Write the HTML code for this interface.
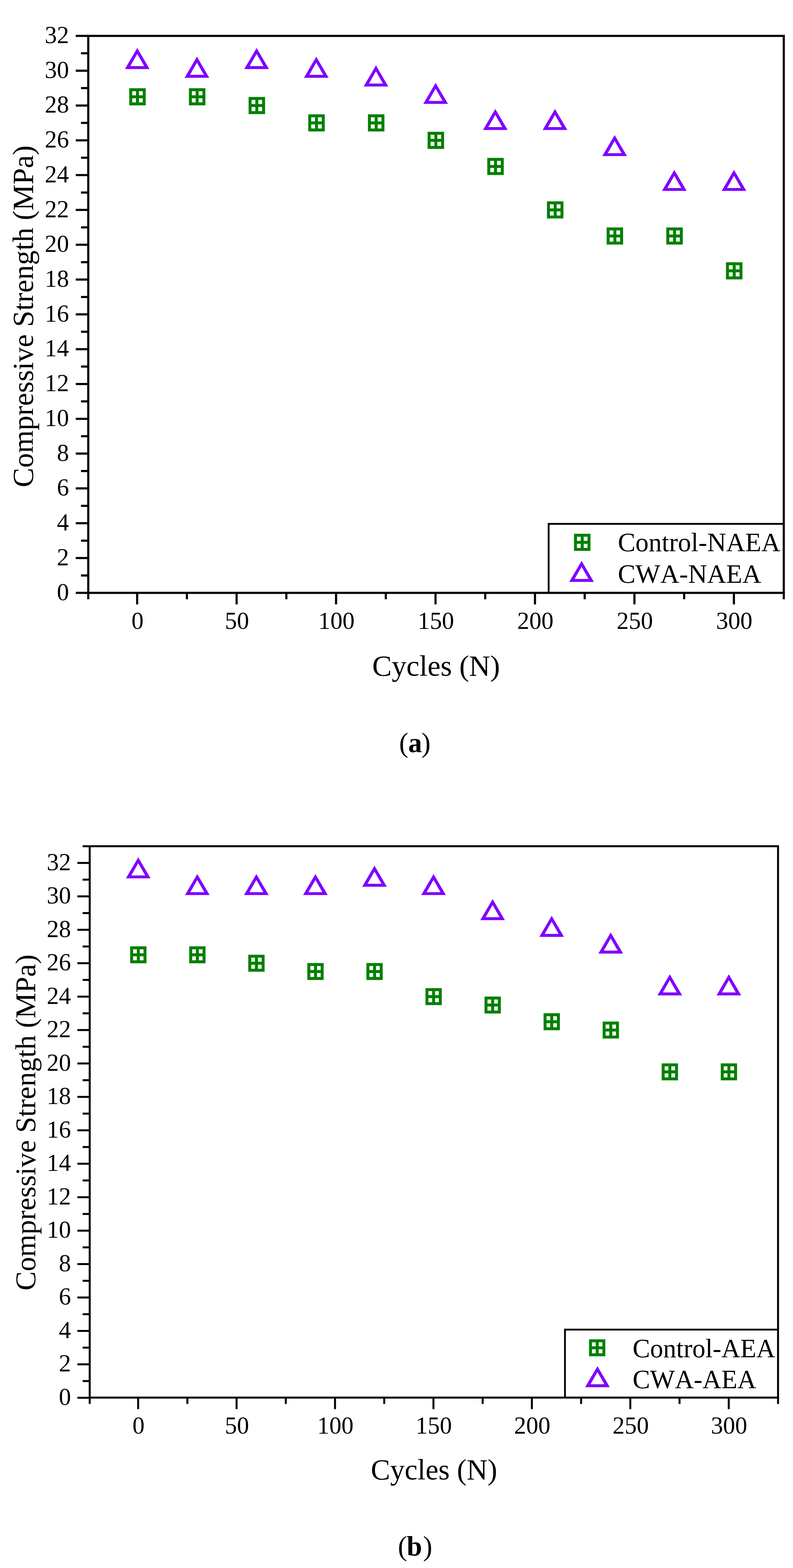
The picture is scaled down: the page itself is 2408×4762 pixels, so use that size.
<!DOCTYPE html>
<html><head><meta charset="utf-8"><title>Compressive Strength vs Cycles</title>
<style>
html,body{margin:0;padding:0;background:#fff;}
svg{display:block;}
text{font-family:"Liberation Serif","Times New Roman",serif;font-kerning:none;fill:#000;}
</style></head>
<body>
<svg width="2408" height="4762" viewBox="0 0 2408 4762">
<rect width="2408" height="4762" fill="#fff"/>
<rect x="268" y="109" width="2112" height="1691.5" fill="none" stroke="#000" stroke-width="6.5"/>
<path d="M268 1800.5H230M268 1747.64H246M268 1694.78H230M268 1641.92H246M268 1589.06H230M268 1536.2H246M268 1483.34H230M268 1430.48H246M268 1377.62H230M268 1324.76H246M268 1271.9H230M268 1219.04H246M268 1166.18H230M268 1113.32H246M268 1060.46H230M268 1007.6H246M268 954.74H230M268 901.88H246M268 849.02H230M268 796.16H246M268 743.3H230M268 690.44H246M268 637.58H230M268 584.72H246M268 531.86H230M268 479H246M268 426.14H230M268 373.28H246M268 320.42H230M268 267.56H246M268 214.7H230M268 161.84H246M268 109H230M268 1800.5V1820M416.5 1800.5V1835.5M567.5 1800.5V1820M718.5 1800.5V1835.5M869.5 1800.5V1820M1020.5 1800.5V1835.5M1171.5 1800.5V1820M1322.5 1800.5V1835.5M1473.5 1800.5V1820M1624.5 1800.5V1835.5M1775.5 1800.5V1820M1926.5 1800.5V1835.5M2077.5 1800.5V1820M2228.5 1800.5V1835.5M2380 1800.5V1820" stroke="#000" stroke-width="6.5" fill="none"/>
<path d="M1666 1800.5V1591H2380" stroke="#000" stroke-width="5.5" fill="none"/>
<g font-size="73.5" text-anchor="end"><text x="209.5" y="1822.5">0</text><text x="209.5" y="1716.78">2</text><text x="209.5" y="1611.06">4</text><text x="209.5" y="1505.34">6</text><text x="209.5" y="1399.62">8</text><text x="209.5" y="1293.9">10</text><text x="209.5" y="1188.18">12</text><text x="209.5" y="1082.46">14</text><text x="209.5" y="976.74">16</text><text x="209.5" y="871.02">18</text><text x="209.5" y="765.3">20</text><text x="209.5" y="659.58">22</text><text x="209.5" y="553.86">24</text><text x="209.5" y="448.14">26</text><text x="209.5" y="342.42">28</text><text x="209.5" y="236.7">30</text><text x="209.5" y="130.98">32</text></g>
<g font-size="73.5" text-anchor="middle"><text x="417.5" y="1910">0</text><text x="719.5" y="1910">50</text><text x="1021.5" y="1910">100</text><text x="1323.5" y="1910">150</text><text x="1625.5" y="1910">200</text><text x="1927.5" y="1910">250</text><text x="2229.5" y="1910">300</text></g>
<text font-size="89" text-anchor="middle" transform="translate(100 960.8) rotate(-90)">Compressive Strength (MPa)</text>
<text font-size="89" text-anchor="middle" x="1324.2" y="2051.5">Cycles (N)</text>
<text font-size="84" y="2283.8"><tspan x="1212.1">(</tspan><tspan x="1239.4" font-weight="bold">a</tspan><tspan x="1279.6">)</tspan></text>
<path d="M1743 1621h50v52h-50zM1752 1630h11.5v12.5h-11.5zM1752 1651.5h11.5v12.5h-11.5zM1772.5 1630h11.5v12.5h-11.5zM1772.5 1651.5h11.5v12.5h-11.5z" fill="#008000" fill-rule="evenodd"/>
<path d="M1766 1703.3L1803.5 1767.2L1728.5 1767.2ZM1766 1721.3L1787.1 1758.3L1744.9 1758.3Z" fill="#8000ff" fill-rule="evenodd"/>
<g font-size="80"><text x="1876.2" y="1674.4">Control-NAEA</text><text x="1876.2" y="1770">CWA-NAEA</text></g>
<path d="M392.5 267.99h50v52h-50zM401.5 276.99h11.5v12.5h-11.5zM401.5 298.49h11.5v12.5h-11.5zM422 276.99h11.5v12.5h-11.5zM422 298.49h11.5v12.5h-11.5z" fill="#008000" fill-rule="evenodd"/>
<path d="M573.7 267.99h50v52h-50zM582.7 276.99h11.5v12.5h-11.5zM582.7 298.49h11.5v12.5h-11.5zM603.2 276.99h11.5v12.5h-11.5zM603.2 298.49h11.5v12.5h-11.5z" fill="#008000" fill-rule="evenodd"/>
<path d="M754.9 294.42h50v52h-50zM763.9 303.42h11.5v12.5h-11.5zM763.9 324.92h11.5v12.5h-11.5zM784.4 303.42h11.5v12.5h-11.5zM784.4 324.92h11.5v12.5h-11.5z" fill="#008000" fill-rule="evenodd"/>
<path d="M936.1 347.28h50v52h-50zM945.1 356.28h11.5v12.5h-11.5zM945.1 377.78h11.5v12.5h-11.5zM965.6 356.28h11.5v12.5h-11.5zM965.6 377.78h11.5v12.5h-11.5z" fill="#008000" fill-rule="evenodd"/>
<path d="M1117.3 347.28h50v52h-50zM1126.3 356.28h11.5v12.5h-11.5zM1126.3 377.78h11.5v12.5h-11.5zM1146.8 356.28h11.5v12.5h-11.5zM1146.8 377.78h11.5v12.5h-11.5z" fill="#008000" fill-rule="evenodd"/>
<path d="M1298.5 400.14h50v52h-50zM1307.5 409.14h11.5v12.5h-11.5zM1307.5 430.64h11.5v12.5h-11.5zM1328 409.14h11.5v12.5h-11.5zM1328 430.64h11.5v12.5h-11.5z" fill="#008000" fill-rule="evenodd"/>
<path d="M1479.7 479.43h50v52h-50zM1488.7 488.43h11.5v12.5h-11.5zM1488.7 509.93h11.5v12.5h-11.5zM1509.2 488.43h11.5v12.5h-11.5zM1509.2 509.93h11.5v12.5h-11.5z" fill="#008000" fill-rule="evenodd"/>
<path d="M1660.9 611.58h50v52h-50zM1669.9 620.58h11.5v12.5h-11.5zM1669.9 642.08h11.5v12.5h-11.5zM1690.4 620.58h11.5v12.5h-11.5zM1690.4 642.08h11.5v12.5h-11.5z" fill="#008000" fill-rule="evenodd"/>
<path d="M1842.1 690.87h50v52h-50zM1851.1 699.87h11.5v12.5h-11.5zM1851.1 721.37h11.5v12.5h-11.5zM1871.6 699.87h11.5v12.5h-11.5zM1871.6 721.37h11.5v12.5h-11.5z" fill="#008000" fill-rule="evenodd"/>
<path d="M2023.3 690.87h50v52h-50zM2032.3 699.87h11.5v12.5h-11.5zM2032.3 721.37h11.5v12.5h-11.5zM2052.8 699.87h11.5v12.5h-11.5zM2052.8 721.37h11.5v12.5h-11.5z" fill="#008000" fill-rule="evenodd"/>
<path d="M2204.5 796.59h50v52h-50zM2213.5 805.59h11.5v12.5h-11.5zM2213.5 827.09h11.5v12.5h-11.5zM2234 805.59h11.5v12.5h-11.5zM2234 827.09h11.5v12.5h-11.5z" fill="#008000" fill-rule="evenodd"/>
<path d="M416.8 145.87L454.3 209.77L379.3 209.77ZM416.8 163.87L437.9 200.87L395.7 200.87Z" fill="#8000ff" fill-rule="evenodd"/>
<path d="M598 172.3L635.5 236.2L560.5 236.2ZM598 190.3L619.1 227.3L576.9 227.3Z" fill="#8000ff" fill-rule="evenodd"/>
<path d="M779.2 145.87L816.7 209.77L741.7 209.77ZM779.2 163.87L800.3 200.87L758.1 200.87Z" fill="#8000ff" fill-rule="evenodd"/>
<path d="M960.4 172.3L997.9 236.2L922.9 236.2ZM960.4 190.3L981.5 227.3L939.3 227.3Z" fill="#8000ff" fill-rule="evenodd"/>
<path d="M1141.6 198.73L1179.1 262.63L1104.1 262.63ZM1141.6 216.73L1162.7 253.73L1120.5 253.73Z" fill="#8000ff" fill-rule="evenodd"/>
<path d="M1322.8 251.59L1360.3 315.49L1285.3 315.49ZM1322.8 269.59L1343.9 306.59L1301.7 306.59Z" fill="#8000ff" fill-rule="evenodd"/>
<path d="M1504 330.88L1541.5 394.78L1466.5 394.78ZM1504 348.88L1525.1 385.88L1482.9 385.88Z" fill="#8000ff" fill-rule="evenodd"/>
<path d="M1685.2 330.88L1722.7 394.78L1647.7 394.78ZM1685.2 348.88L1706.3 385.88L1664.1 385.88Z" fill="#8000ff" fill-rule="evenodd"/>
<path d="M1866.4 410.17L1903.9 474.07L1828.9 474.07ZM1866.4 428.17L1887.5 465.17L1845.3 465.17Z" fill="#8000ff" fill-rule="evenodd"/>
<path d="M2047.6 515.89L2085.1 579.79L2010.1 579.79ZM2047.6 533.89L2068.7 570.89L2026.5 570.89Z" fill="#8000ff" fill-rule="evenodd"/>
<path d="M2228.8 515.89L2266.3 579.79L2191.3 579.79ZM2228.8 533.89L2249.9 570.89L2207.7 570.89Z" fill="#8000ff" fill-rule="evenodd"/>
<rect x="272.4" y="2570" width="2090.2" height="1674.5" fill="none" stroke="#000" stroke-width="6"/>
<path d="M272.4 4245H235M272.4 4194.24H250.8M272.4 4143.48H235M272.4 4092.72H250.8M272.4 4041.96H235M272.4 3991.2H250.8M272.4 3940.44H235M272.4 3889.68H250.8M272.4 3838.92H235M272.4 3788.16H250.8M272.4 3737.4H235M272.4 3686.64H250.8M272.4 3635.88H235M272.4 3585.12H250.8M272.4 3534.36H235M272.4 3483.6H250.8M272.4 3432.84H235M272.4 3382.08H250.8M272.4 3331.32H235M272.4 3280.56H250.8M272.4 3229.8H235M272.4 3179.04H250.8M272.4 3128.28H235M272.4 3077.52H250.8M272.4 3026.76H235M272.4 2976H250.8M272.4 2925.24H235M272.4 2874.48H250.8M272.4 2823.72H235M272.4 2772.96H250.8M272.4 2722.2H235M272.4 2671.44H250.8M272.4 2620.68H235M272.4 2570H250.8M272.4 4244.5V4263.75M419.5 4244.5V4279.5M568.95 4244.5V4263.75M718.4 4244.5V4279.5M867.85 4244.5V4263.75M1017.3 4244.5V4279.5M1166.75 4244.5V4263.75M1316.2 4244.5V4279.5M1465.65 4244.5V4263.75M1615.1 4244.5V4279.5M1764.55 4244.5V4263.75M1914 4244.5V4279.5M2063.45 4244.5V4263.75M2212.9 4244.5V4279.5M2362.6 4244.5V4263.75" stroke="#000" stroke-width="6" fill="none"/>
<path d="M1715.6 4244.5V4038H2362.6" stroke="#000" stroke-width="5.5" fill="none"/>
<g font-size="73.5" text-anchor="end"><text x="215.5" y="4267">0</text><text x="215.5" y="4165.48">2</text><text x="215.5" y="4063.96">4</text><text x="215.5" y="3962.44">6</text><text x="215.5" y="3860.92">8</text><text x="215.5" y="3759.4">10</text><text x="215.5" y="3657.88">12</text><text x="215.5" y="3556.36">14</text><text x="215.5" y="3454.84">16</text><text x="215.5" y="3353.32">18</text><text x="215.5" y="3251.8">20</text><text x="215.5" y="3150.28">22</text><text x="215.5" y="3048.76">24</text><text x="215.5" y="2947.24">26</text><text x="215.5" y="2845.72">28</text><text x="215.5" y="2744.2">30</text><text x="215.5" y="2642.68">32</text></g>
<g font-size="73.5" text-anchor="middle"><text x="420.5" y="4354">0</text><text x="719.4" y="4354">50</text><text x="1018.3" y="4354">100</text><text x="1317.2" y="4354">150</text><text x="1616.1" y="4354">200</text><text x="1915" y="4354">250</text><text x="2213.9" y="4354">300</text></g>
<text font-size="87.5" text-anchor="middle" transform="translate(106.7 3408.9) rotate(-90)">Compressive Strength (MPa)</text>
<text font-size="88" text-anchor="middle" x="1317.9" y="4493">Cycles (N)</text>
<text font-size="84" y="4723.8"><tspan x="1208.3">(</tspan><tspan x="1234.9" font-weight="bold">b</tspan><tspan x="1284.7">)</tspan></text>
<path d="M1788.65 4067.5h49.5v51.5h-49.5zM1797.65 4076.5h11.25v12.25h-11.25zM1797.65 4097.75h11.25v12.25h-11.25zM1817.9 4076.5h11.25v12.25h-11.25zM1817.9 4097.75h11.25v12.25h-11.25z" fill="#008000" fill-rule="evenodd"/>
<path d="M1814.25 4149.1L1851.75 4213L1776.75 4213ZM1814.25 4167.1L1835.35 4204.1L1793.15 4204.1Z" fill="#8000ff" fill-rule="evenodd"/>
<g font-size="79.5"><text x="1921.1" y="4121.5">Control-AEA</text><text x="1921.1" y="4215.6">CWA-AEA</text></g>
<path d="M395.25 2874.11h49.5v51.5h-49.5zM404.25 2883.11h11.25v12.25h-11.25zM404.25 2904.36h11.25v12.25h-11.25zM424.5 2883.11h11.25v12.25h-11.25zM424.5 2904.36h11.25v12.25h-11.25z" fill="#008000" fill-rule="evenodd"/>
<path d="M574.59 2874.11h49.5v51.5h-49.5zM583.59 2883.11h11.25v12.25h-11.25zM583.59 2904.36h11.25v12.25h-11.25zM603.84 2883.11h11.25v12.25h-11.25zM603.84 2904.36h11.25v12.25h-11.25z" fill="#008000" fill-rule="evenodd"/>
<path d="M753.93 2899.49h49.5v51.5h-49.5zM762.93 2908.49h11.25v12.25h-11.25zM762.93 2929.74h11.25v12.25h-11.25zM783.18 2908.49h11.25v12.25h-11.25zM783.18 2929.74h11.25v12.25h-11.25z" fill="#008000" fill-rule="evenodd"/>
<path d="M933.27 2924.87h49.5v51.5h-49.5zM942.27 2933.87h11.25v12.25h-11.25zM942.27 2955.12h11.25v12.25h-11.25zM962.52 2933.87h11.25v12.25h-11.25zM962.52 2955.12h11.25v12.25h-11.25z" fill="#008000" fill-rule="evenodd"/>
<path d="M1112.61 2924.87h49.5v51.5h-49.5zM1121.61 2933.87h11.25v12.25h-11.25zM1121.61 2955.12h11.25v12.25h-11.25zM1141.86 2933.87h11.25v12.25h-11.25zM1141.86 2955.12h11.25v12.25h-11.25z" fill="#008000" fill-rule="evenodd"/>
<path d="M1291.95 3001.01h49.5v51.5h-49.5zM1300.95 3010.01h11.25v12.25h-11.25zM1300.95 3031.26h11.25v12.25h-11.25zM1321.2 3010.01h11.25v12.25h-11.25zM1321.2 3031.26h11.25v12.25h-11.25z" fill="#008000" fill-rule="evenodd"/>
<path d="M1471.29 3026.39h49.5v51.5h-49.5zM1480.29 3035.39h11.25v12.25h-11.25zM1480.29 3056.64h11.25v12.25h-11.25zM1500.54 3035.39h11.25v12.25h-11.25zM1500.54 3056.64h11.25v12.25h-11.25z" fill="#008000" fill-rule="evenodd"/>
<path d="M1650.63 3077.15h49.5v51.5h-49.5zM1659.63 3086.15h11.25v12.25h-11.25zM1659.63 3107.4h11.25v12.25h-11.25zM1679.88 3086.15h11.25v12.25h-11.25zM1679.88 3107.4h11.25v12.25h-11.25z" fill="#008000" fill-rule="evenodd"/>
<path d="M1829.97 3102.53h49.5v51.5h-49.5zM1838.97 3111.53h11.25v12.25h-11.25zM1838.97 3132.78h11.25v12.25h-11.25zM1859.22 3111.53h11.25v12.25h-11.25zM1859.22 3132.78h11.25v12.25h-11.25z" fill="#008000" fill-rule="evenodd"/>
<path d="M2009.31 3229.43h49.5v51.5h-49.5zM2018.31 3238.43h11.25v12.25h-11.25zM2018.31 3259.68h11.25v12.25h-11.25zM2038.56 3238.43h11.25v12.25h-11.25zM2038.56 3259.68h11.25v12.25h-11.25z" fill="#008000" fill-rule="evenodd"/>
<path d="M2188.65 3229.43h49.5v51.5h-49.5zM2197.65 3238.43h11.25v12.25h-11.25zM2197.65 3259.68h11.25v12.25h-11.25zM2217.9 3238.43h11.25v12.25h-11.25zM2217.9 3259.68h11.25v12.25h-11.25z" fill="#008000" fill-rule="evenodd"/>
<path d="M419.8 2603.66L457.3 2667.56L382.3 2667.56ZM419.8 2621.66L440.9 2658.66L398.7 2658.66Z" fill="#8000ff" fill-rule="evenodd"/>
<path d="M599.14 2654.42L636.64 2718.32L561.64 2718.32ZM599.14 2672.42L620.24 2709.42L578.04 2709.42Z" fill="#8000ff" fill-rule="evenodd"/>
<path d="M778.48 2654.42L815.98 2718.32L740.98 2718.32ZM778.48 2672.42L799.58 2709.42L757.38 2709.42Z" fill="#8000ff" fill-rule="evenodd"/>
<path d="M957.82 2654.42L995.32 2718.32L920.32 2718.32ZM957.82 2672.42L978.92 2709.42L936.72 2709.42Z" fill="#8000ff" fill-rule="evenodd"/>
<path d="M1137.16 2629.04L1174.66 2692.94L1099.66 2692.94ZM1137.16 2647.04L1158.26 2684.04L1116.06 2684.04Z" fill="#8000ff" fill-rule="evenodd"/>
<path d="M1316.5 2654.42L1354 2718.32L1279 2718.32ZM1316.5 2672.42L1337.6 2709.42L1295.4 2709.42Z" fill="#8000ff" fill-rule="evenodd"/>
<path d="M1495.84 2730.56L1533.34 2794.46L1458.34 2794.46ZM1495.84 2748.56L1516.94 2785.56L1474.74 2785.56Z" fill="#8000ff" fill-rule="evenodd"/>
<path d="M1675.18 2781.32L1712.68 2845.22L1637.68 2845.22ZM1675.18 2799.32L1696.28 2836.32L1654.08 2836.32Z" fill="#8000ff" fill-rule="evenodd"/>
<path d="M1854.52 2832.08L1892.02 2895.98L1817.02 2895.98ZM1854.52 2850.08L1875.62 2887.08L1833.42 2887.08Z" fill="#8000ff" fill-rule="evenodd"/>
<path d="M2033.86 2958.98L2071.36 3022.88L1996.36 3022.88ZM2033.86 2976.98L2054.96 3013.98L2012.76 3013.98Z" fill="#8000ff" fill-rule="evenodd"/>
<path d="M2213.2 2958.98L2250.7 3022.88L2175.7 3022.88ZM2213.2 2976.98L2234.3 3013.98L2192.1 3013.98Z" fill="#8000ff" fill-rule="evenodd"/>
</svg>
</body></html>
